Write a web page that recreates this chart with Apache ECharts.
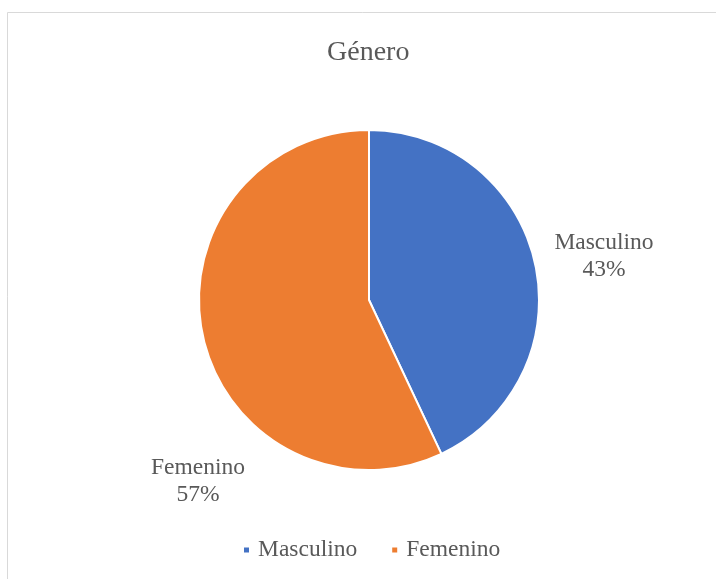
<!DOCTYPE html>
<html>
<head>
<meta charset="utf-8">
<script src="https://cdn.jsdelivr.net/npm/echarts@6/dist/echarts.min.js"></script>
<style>
  html, body { margin: 0; padding: 0; background: #fff; }
  #chart { width: 716px; height: 579px; }
</style>
</head>
<body>
<div id="chart"></div>
<script>
// data
const categories = ['Masculino', 'Femenino'];
const shares = [43, 57];
const colors = ['#4472c4', '#ed7d31'];

// where Excel put the data labels (centre of the text block)
const labelSpots = [[604, 256], [198, 481]];

const chart = echarts.init(document.getElementById('chart'));
const font = '"Liberation Serif", "Times New Roman", serif';

chart.setOption({
  backgroundColor: '#ffffff',
  animation: false,
  title: {
    text: 'Género',
    left: 322,
    top: 34,
    textStyle: { fontFamily: font, fontSize: 28, fontWeight: 'normal', color: '#595959' }
  },
  legend: {
    top: 538,
    left: 242,
    padding: 0,
    icon: 'rect',
    itemWidth: 7,
    itemHeight: 7,
    itemGap: 33,
    data: categories,
    textStyle: { fontFamily: font, fontSize: 23.5, color: '#595959', padding: [0, 0, 0, 3] }
  },
  graphic: [{
    type: 'rect',
    shape: { x: 7.5, y: 12.5, width: 800, height: 700 },
    style: { fill: 'none', stroke: '#d9d9d9', lineWidth: 1 },
    silent: true
  }],
  series: [{
    type: 'pie',
    center: [369, 300],
    radius: 170,
    startAngle: 90,
    clockwise: true,
    itemStyle: { borderColor: '#ffffff', borderWidth: 2 },
    label: {
      show: true,
      position: 'outside',
      formatter: p => p.name + '\n' + p.value + '%',
      fontFamily: font,
      fontSize: 23.5,
      lineHeight: 27,
      color: '#595959',
      align: 'center'
    },
    labelLine: { show: false },
    labelLayout: p => ({
      x: labelSpots[p.dataIndex][0],
      y: labelSpots[p.dataIndex][1],
      align: 'center',
      verticalAlign: 'middle'
    }),
    data: categories.map((c, i) => ({
      name: c,
      value: shares[i],
      itemStyle: { color: colors[i] }
    }))
  }]
});
</script>
</body>
</html>
